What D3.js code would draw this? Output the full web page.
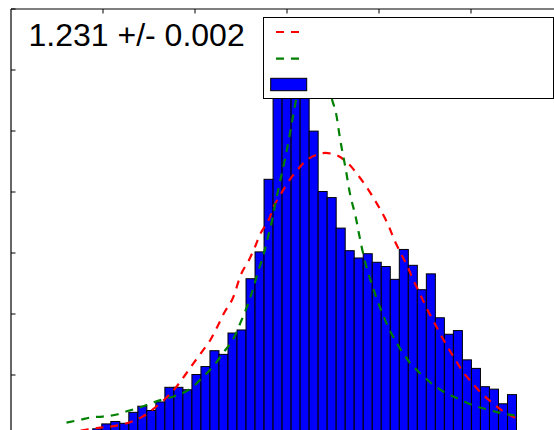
<!DOCTYPE html>
<html>
<head>
<meta charset="utf-8">
<script src="https://cdn.jsdelivr.net/npm/d3@7"></script>
<style>
  html, body { margin: 0; padding: 0; background: #fff; }
  svg { display: block; }
</style>
</head>
<body>
<svg id="chart" width="554" height="430"></svg>
<script>
// Histogram binning: 50 equal bins starting at binStart
const binStart = 0.96;
const binWidth = 0.0098;
const counts = [3, 5, 7, 11, 19, 23, 20, 38, 48, 41, 55, 79, 79, 75, 100, 113, 139, 133,
  168, 173, 257, 301, 420, 570, 616, 613, 584, 499, 400, 390, 340, 303, 291, 298, 284,
  277, 256, 305, 279, 239, 265, 193, 166, 172, 124, 110, 80, 76, 52, 67];

// Fitted peak position and its uncertainty
const peakValue = 1.231;
const peakError = 0.002;

// Broad fit (red dashed)
const redX = [0.96, 0.98, 0.9978, 1.0104, 1.0283, 1.0435, 1.0674, 1.0804, 1.0902, 1.0992,
  1.1084, 1.1174, 1.1247, 1.1326, 1.141, 1.1511, 1.159, 1.1663, 1.1717, 1.1808, 1.1862,
  1.1935, 1.2025, 1.2127, 1.2242, 1.2397, 1.2551, 1.2677, 1.2786, 1.2877, 1.2967, 1.304,
  1.3112, 1.3174, 1.3245, 1.3312, 1.3384, 1.3449, 1.3516, 1.3592, 1.3666, 1.3747, 1.3828,
  1.3915, 1.4018, 1.4127, 1.4241, 1.4362, 1.4486];
const redY = [5, 9, 13, 15, 21, 31, 59, 80, 100, 119, 138, 157, 178, 202, 223, 266, 287,
  311, 331, 354, 376, 395, 417, 437, 454, 463, 459, 445, 425, 406, 384, 365, 343, 320,
  298, 278, 253, 233, 211, 189, 168, 146, 126, 105, 86, 68, 53, 39, 29];

// Narrow fit (green dashed), peaking at peakValue
const greenX = [0.9609, 0.9761, 0.9891, 1.0, 1.0141, 1.0293, 1.0446, 1.0587, 1.0772, 1.088,
  1.0989, 1.1098, 1.1207, 1.1315, 1.1413, 1.15, 1.1573, 1.1627, 1.1688, 1.1753, 1.1801,
  1.1845, 1.1888, 1.1935, 1.1982, 1.2025, 1.2068, 1.2105, 1.2152, 1.2207, 1.2261, peakValue,
  1.2359, 1.2424, 1.2489, 1.2533, 1.2587, 1.2641, 1.2696, 1.275, 1.2786, 1.2823, 1.2877,
  1.2932, 1.2986, 1.304, 1.3105, 1.3177, 1.3258, 1.3359, 1.3475, 1.3587, 1.3728, 1.3873,
  1.4018, 1.4177, 1.4326, 1.4478];
const greenY = [21, 26, 30, 31, 34, 41, 48, 56, 64, 70, 81, 97, 114, 136, 156, 185, 212,
  236, 267, 298, 327, 354, 387, 420, 452, 485, 521, 551, 584, 620, 641, 649, 641, 613, 554,
  532, 482, 439, 392, 360, 332, 305, 272, 246, 222, 201, 178, 157, 137, 116, 99, 84, 70,
  60, 50, 43, 37, 33];

const xTicks = [1.0, 1.1, 1.2, 1.3, 1.4, 1.5];
const yTicks = [0, 100, 200, 300, 400, 500, 600, 700];

const fitLabel = `${peakValue.toFixed(3)} +/- ${peakError.toFixed(3)}`;

const colors = { red: "#ff0000", green: "#008000", bar: "#0000ff" };

const svg = d3.select("#chart");

const x = d3.scaleLinear().domain([0.9, 1.5]).range([10.5, 562.5]);
const y = d3.scaleLinear().domain([0, 700]).range([435.5, 8.5]);

const bins = counts.map((c, i) => ({
  x0: binStart + i * binWidth,
  x1: binStart + (i + 1) * binWidth,
  count: c
}));

// Bars
svg.append("g")
  .selectAll("rect")
  .data(bins)
  .join("rect")
  .attr("x", d => x(d.x0))
  .attr("width", d => x(d.x1) - x(d.x0))
  .attr("y", d => y(d.count))
  .attr("height", d => y(0) - y(d.count))
  .attr("fill", colors.bar)
  .attr("stroke", "#000")
  .attr("stroke-width", 1);

// Fit curves
const line = d3.line()
  .x(d => x(d[0]))
  .y(d => y(d[1]))
  .curve(d3.curveCatmullRom.alpha(0.5));

svg.append("path")
  .datum(d3.zip(redX, redY))
  .attr("d", line)
  .attr("fill", "none")
  .attr("stroke", colors.red)
  .attr("stroke-width", 2.2)
  .attr("stroke-dasharray", "8,7");

svg.append("path")
  .datum(d3.zip(greenX, greenY))
  .attr("d", line)
  .attr("fill", "none")
  .attr("stroke", colors.green)
  .attr("stroke-width", 2.2)
  .attr("stroke-dasharray", "8,7");

// Axes: inward ticks on the left and top spines
svg.append("g")
  .attr("transform", "translate(11,0)")
  .call(d3.axisLeft(y).tickValues(yTicks).tickSize(-4.5).tickFormat(""))
  .call(g => g.select(".domain").remove())
  .selectAll("line").attr("stroke", "#000");

svg.append("g")
  .attr("transform", "translate(0,9)")
  .call(d3.axisTop(x).tickValues(xTicks).tickSize(-4.5).tickFormat(""))
  .call(g => g.select(".domain").remove())
  .selectAll("line").attr("stroke", "#000");

// Frame
svg.append("line").attr("x1", 11).attr("x2", 11).attr("y1", 9).attr("y2", 440)
  .attr("stroke", "#000").attr("stroke-width", 1.2);
svg.append("line").attr("x1", 11).attr("x2", 560).attr("y1", 9).attr("y2", 9)
  .attr("stroke", "#000").attr("stroke-width", 1.2);

// Fit result text
svg.append("text")
  .attr("x", 28.5)
  .attr("y", 45.7)
  .attr("font-family", "'Liberation Sans', Arial, sans-serif")
  .attr("font-size", 32)
  .attr("fill", "#000")
  .text(fitLabel);

// Legend
const legend = svg.append("g");
legend.append("rect")
  .attr("x", 263.5).attr("y", 17.5)
  .attr("width", 290).attr("height", 81)
  .attr("fill", "#fff")
  .attr("stroke", "#000")
  .attr("stroke-width", 1);

[{ color: colors.red, cy: 32 }, { color: colors.green, cy: 58.7 }].forEach(e => {
  legend.append("line")
    .attr("x1", 276).attr("x2", 299)
    .attr("y1", e.cy).attr("y2", e.cy)
    .attr("stroke", e.color)
    .attr("stroke-width", 2.2)
    .attr("stroke-dasharray", "8,7");
});

legend.append("rect")
  .attr("x", 270.7).attr("y", 78.3)
  .attr("width", 36).attr("height", 12.4)
  .attr("fill", colors.bar)
  .attr("stroke", "#000")
  .attr("stroke-width", 1);
</script>
</body>
</html>
